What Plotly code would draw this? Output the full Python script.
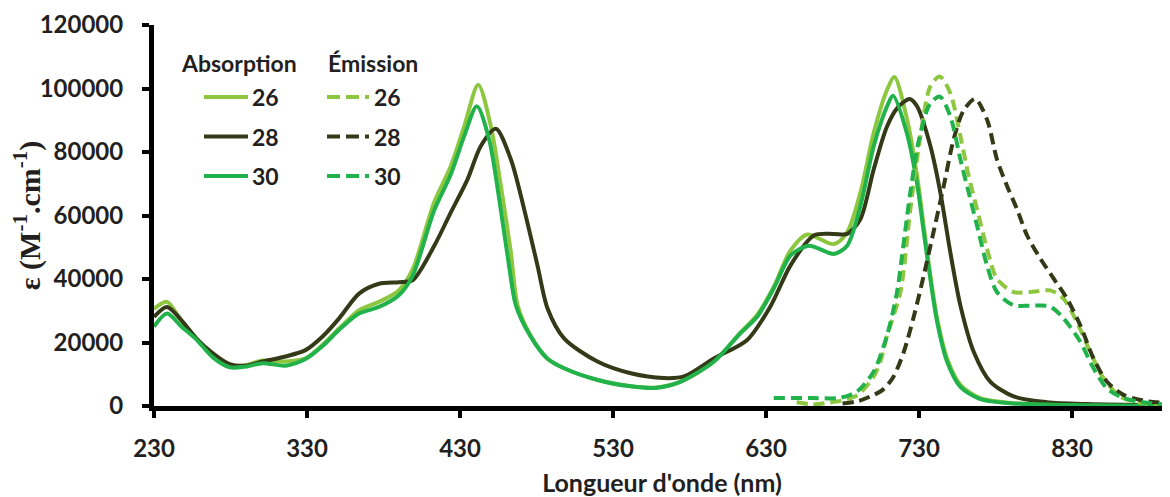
import plotly.graph_objects as go

# ---------------- data ----------------
abs26_x = [230, 231.6, 238.5, 248, 257.6, 268.5, 279.4, 290, 301, 316, 329, 340, 351, 364, 377, 390, 399, 413, 424, 432.7, 441.9, 450.2, 456.7, 463.2, 467.6, 476, 487, 498, 520, 541.6, 558, 574, 596, 613, 624, 635, 646, 656.9, 674.3, 683, 691.7, 700.4, 709.1, 713.9, 722.2, 728.7, 733, 737.4, 741.8, 748.3, 757, 770, 792, 830, 894]
abs26_y = [30500, 31200, 32800, 26800, 21300, 15600, 12400, 12900, 14300, 14000, 15000, 19200, 24400, 30200, 32800, 36400, 43000, 64000, 75600, 88000, 101200, 88000, 69300, 48500, 31700, 22300, 15000, 11900, 8200, 6200, 5800, 7700, 14000, 23000, 28600, 37500, 49000, 54000, 51000, 54700, 67300, 86100, 99600, 103600, 90200, 72500, 56800, 41100, 27600, 15000, 6700, 2500, 900, 300, 100]

abs28_x = [230, 238.5, 248, 257.6, 268.5, 279.4, 290, 301, 316, 329, 340, 351, 364, 377, 390, 399, 413.2, 424, 434.9, 443.6, 453.4, 463.2, 471.9, 480.6, 487.2, 498, 519.8, 541.6, 563.3, 576.4, 595.9, 617.7, 633, 646, 661.2, 674.3, 683, 691.7, 700.4, 709.1, 716, 723.9, 728.7, 737.4, 743.9, 750.4, 757, 765.7, 776.5, 791.8, 813.5, 840, 894]
abs28_y = [28100, 31200, 27000, 21300, 16600, 13200, 12700, 14000, 15600, 17600, 21800, 27600, 35400, 38500, 39000, 39600, 50500, 61000, 71400, 81900, 87300, 77700, 62000, 44300, 30700, 21300, 14000, 10300, 8800, 9300, 15000, 20800, 31500, 44300, 53700, 54200, 54200, 58900, 74600, 88100, 94000, 96700, 94400, 81900, 67300, 48500, 31700, 17100, 7700, 3000, 1200, 600, 200]

abs30_x = [230, 238.5, 248, 257.6, 268.5, 279.4, 290, 301, 316, 329, 340, 351, 364, 377, 390, 399, 413, 424, 432.7, 441, 449, 455.6, 462, 466.5, 476, 487, 498, 520, 541.6, 558, 574, 596, 613, 624, 635, 646, 658, 674.3, 683, 691.7, 700.4, 709.1, 713, 722, 728.7, 733, 737.4, 741.8, 748.3, 757, 770, 792, 830, 894]
abs30_y = [25000, 29100, 25000, 21000, 15300, 12200, 12400, 13500, 12700, 14800, 18800, 24000, 29100, 31200, 34900, 41000, 61500, 73000, 85000, 94400, 84000, 65200, 44300, 31700, 22000, 15000, 11900, 8200, 6200, 5700, 7600, 14000, 22800, 28000, 37000, 47400, 50500, 47900, 50500, 63100, 81900, 94400, 97700, 86000, 70000, 55000, 40000, 26500, 14000, 6000, 2200, 800, 300, 100]

em26_x = [650, 660, 670, 680, 690, 700, 704.7, 709, 717.8, 724.3, 730.9, 737.4, 743.5, 750.4, 757, 762.4, 767.9, 774.4, 780.9, 791.8, 802.7, 815.7, 824.4, 833.1, 841.8, 850.5, 861.4, 874.5, 894]
em26_y = [1200, 500, 1000, 1800, 3500, 9000, 14000, 22000, 35900, 62000, 85000, 100700, 103800, 98600, 85000, 72500, 62000, 49500, 40100, 35900, 35900, 36400, 33800, 26500, 17100, 8800, 3000, 1000, 500]

em28_x = [680, 690, 700.4, 706, 713, 720, 727, 733, 740, 746, 752.6, 759, 766.7, 774.4, 780.9, 787.5, 794, 800.6, 809.3, 818, 826.7, 835.3, 844, 852.7, 863.6, 878.8, 894]
em28_y = [800, 1500, 3500, 5000, 9000, 17000, 29000, 41000, 56000, 69000, 84000, 93000, 96700, 90200, 77700, 69300, 62000, 53700, 46400, 40100, 33800, 25500, 15000, 7700, 3500, 1500, 1000]

em30_x = [635, 660, 678.6, 689.5, 700.4, 709.1, 715.6, 720, 724.3, 730, 737, 743.5, 750.4, 757, 762.4, 767.9, 774.4, 780.9, 791.8, 802.7, 815.7, 824.4, 835.3, 844, 852.7, 863.6, 878.8, 894]
em30_y = [2500, 2500, 2600, 4600, 10900, 22300, 35900, 51600, 67300, 84000, 95000, 97500, 91300, 77700, 67300, 56800, 44300, 35900, 31700, 31600, 31300, 27600, 20300, 11900, 5600, 2500, 1000, 300]

x_ticks = [230, 330, 430, 530, 630, 730, 830]
y_ticks = [0, 20000, 40000, 60000, 80000, 100000, 120000]
y_tick_labels = ["0", "20000", "40000", "60000", "80000", "100000", "120000"]
series_names = ["26", "28", "30"]

C26 = "#8dc63f"
C28 = "#343a17"
C30 = "#21b24b"
TXT = "#231f20"
DASH = "11px,6px"

fig = go.Figure()
for nm, xs, ys, col in [("26", abs26_x, abs26_y, C26), ("28", abs28_x, abs28_y, C28), ("30", abs30_x, abs30_y, C30)]:
    fig.add_trace(go.Scatter(x=xs, y=ys, mode="lines", name="Absorption " + nm,
                             line=dict(color=col, width=4, shape="spline", smoothing=0.8),
                             showlegend=False))
for nm, xs, ys, col in [("26", em26_x, em26_y, C26), ("28", em28_x, em28_y, C28), ("30", em30_x, em30_y, C30)]:
    fig.add_trace(go.Scatter(x=xs, y=ys, mode="lines", name="Émission " + nm,
                             line=dict(color=col, width=4, dash=DASH, shape="spline", smoothing=0.8),
                             showlegend=False))

# page body has an 8px margin: size the figure so it fills the 1170x497 window exactly
OFF = 8
W, H = 1170 - OFF, 497 - OFF
# plot area in window pixels
L, R, T, B = 154, 1170, 25, 406
def px(xp): return (xp - L) / (R - L)
def py(yp): return (B - yp) / (B - T)

legend_font = dict(family="Lato", size=23, color=TXT, weight="bold")
fig.add_annotation(x=px(239), y=py(63), xref="paper", yref="paper", text="Absorption",
                   showarrow=False, font=legend_font, xanchor="center", yanchor="middle")
fig.add_annotation(x=px(373), y=py(63), xref="paper", yref="paper", text="Émission",
                   showarrow=False, font=legend_font, xanchor="center", yanchor="middle")
rows = [97, 136.5, 176]
for nm, col, r in zip(series_names, [C26, C28, C30], rows):
    fig.add_shape(type="line", xref="paper", yref="paper", x0=px(204), x1=px(248), y0=py(r), y1=py(r),
                  line=dict(color=col, width=4))
    fig.add_annotation(x=px(250), y=py(r), xref="paper", yref="paper", text=nm, showarrow=False,
                       font=legend_font, xanchor="left", yanchor="middle")
    fig.add_shape(type="line", xref="paper", yref="paper", x0=px(327), x1=px(369), y0=py(r), y1=py(r),
                  line=dict(color=col, width=4, dash="13px,6px"))
    fig.add_annotation(x=px(372), y=py(r), xref="paper", yref="paper", text=nm, showarrow=False,
                       font=legend_font, xanchor="left", yanchor="middle")

tick_font = dict(family="Lato", size=24, color=TXT, weight="bold")
fig.update_layout(
    width=W, height=H,
    margin=dict(l=L - OFF, r=0, t=T - OFF, b=H - (B - OFF)),
    plot_bgcolor="white", paper_bgcolor="white",
    showlegend=False,
    xaxis=dict(range=[230, 894], tickvals=x_ticks, ticktext=[str(v) for v in x_ticks],
               showgrid=False, zeroline=False, showline=True, linecolor="black", linewidth=5,
               ticks="outside", ticklen=7, tickwidth=4, tickcolor="black",
               tickfont=tick_font, ticklabelstandoff=10, automargin=False,
               title=dict(text="Longueur d'onde (nm)", font=dict(family="Lato", size=25, color=TXT, weight="bold"),
                          standoff=20)),
    yaxis=dict(range=[0, 120000], tickvals=y_ticks, ticktext=y_tick_labels,
               showgrid=False, zeroline=False, showline=True, linecolor="black", linewidth=5,
               ticks="outside", ticklen=7, tickwidth=4, tickcolor="black",
               tickfont=tick_font, ticklabelstandoff=14, automargin=False,
               title=dict(text="ε (M<sup>-1</sup>.cm<sup>-1</sup>)",
                          font=dict(family="Liberation Serif", size=30, color=TXT, weight="bold"),
                          standoff=14)),
)

fig.write_html("out.html")
